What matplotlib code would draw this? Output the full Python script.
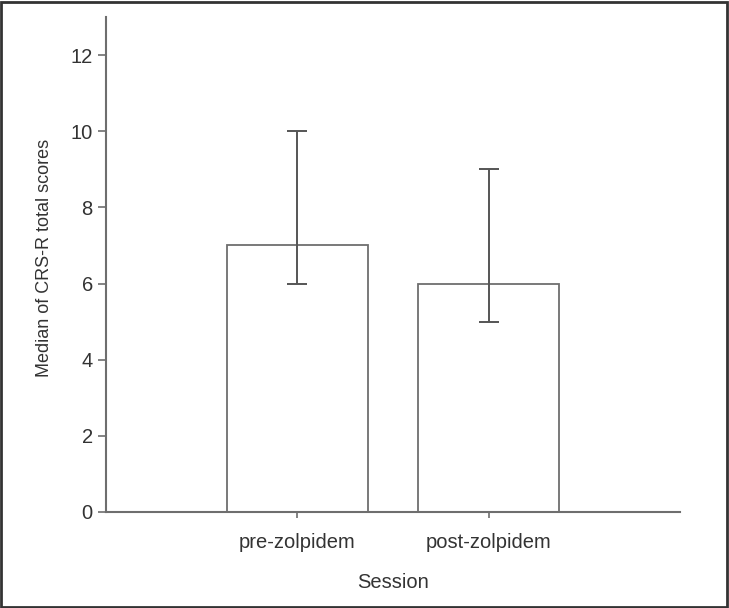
import matplotlib.pyplot as plt
from matplotlib.patches import Rectangle

plt.rcParams['font.family'] = ['Liberation Sans', 'DejaVu Sans']

sessions = ['pre-zolpidem', 'post-zolpidem']
medians = [7, 6]
lower = [6, 5]
upper = [10, 9]

gray = '#6e6e6e'
text_col = '#333333'

fig = plt.figure(figsize=(7.29, 6.08), dpi=100)
ax = fig.add_axes([0.1454, 0.1579, 0.7874, 0.8141])

x = list(range(len(sessions)))
err = [[m - lo for m, lo in zip(medians, lower)],
       [hi - m for m, hi in zip(medians, upper)]]
ax.bar(x, medians, width=0.736, color='white', edgecolor=gray, linewidth=1.3, zorder=2)
ax.errorbar(x, medians, yerr=err, fmt='none', ecolor='#555555', elinewidth=1.4,
            capsize=7, capthick=1.4, zorder=3)

ax.set_xlim(-1, 2)
ax.set_ylim(0, 13)
ax.set_yticks(range(0, 13, 2))
ax.set_xticks(x)
ax.set_xticklabels(sessions)

for s in ['top', 'right']:
    ax.spines[s].set_visible(False)
for s in ['left', 'bottom']:
    ax.spines[s].set_color(gray)
    ax.spines[s].set_linewidth(1.5)

fs = 14.5
ax.tick_params(colors=gray, labelcolor=text_col, labelsize=fs, length=6, width=1.2)
ax.tick_params(axis='x', length=4, pad=11)
ax.set_ylabel('Median of CRS-R total scores', fontsize=13, color=text_col)
ax.yaxis.set_label_coords(-0.093, 0.513)
ax.set_xlabel('Session', fontsize=fs, color=text_col, labelpad=15)

# frame around the whole figure
fig.patches.append(Rectangle((0.002, 0.002), 0.995, 0.995, transform=fig.transFigure,
                             fill=False, edgecolor='#333333', linewidth=2))

fig.savefig('out.png', dpi=100)
